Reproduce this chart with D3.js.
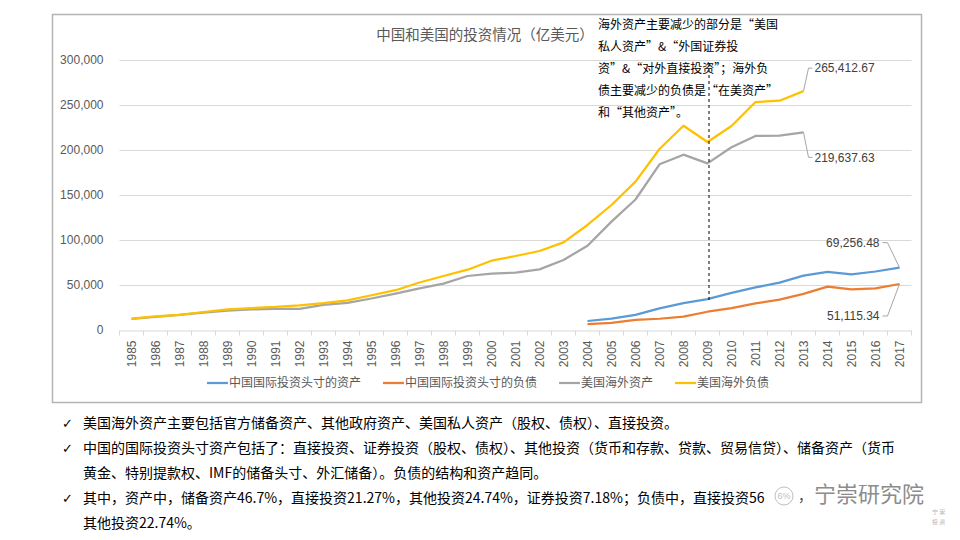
<!DOCTYPE html>
<html>
<head>
<meta charset="utf-8">
<script src="https://cdn.jsdelivr.net/npm/d3@7"></script>
<style>
  body { margin: 0; background: #fff; }
  svg { display: block; }
  text { font-family: "Liberation Sans", "Noto Sans CJK SC", sans-serif; }
  .cjk { font-family: "Noto Sans CJK SC", sans-serif; }
</style>
</head>
<body>
<svg id="chart" width="960" height="540"></svg>
<script>
// Data
const years = d3.range(1985, 2018);
const usYears = d3.range(1985, 2014);
const cnYears = d3.range(2004, 2018);

const usAssets = [12300, 14600, 16700, 19300, 21500, 22800, 23500, 23400, 27800, 30200, 35000, 40500, 46200, 51600,
    60000, 62600, 63700, 67400, 77800, 93700, 120400, 145000, 184100, 194800, 185200, 203000, 215600, 216000, 219637.63];
const usLiab = [12600, 15200, 16900, 20000, 22800, 24400, 25600, 27400, 29800, 33000, 38600, 44200, 52800, 60000,
    67000, 77000, 82200, 87800, 97400, 116700, 138900, 164800, 201100, 227000, 208900, 226700, 253300, 254800, 265412.67];
const cnAssets = [10000, 12600, 16900, 24100, 29800, 34400, 41200, 47300, 52600, 60400, 64600, 61700, 65000, 69256.48];
const cnLiab = [6600, 8000, 11200, 12500, 14900, 20300, 24300, 29600, 33700, 40200, 48200, 45200, 46200, 51115.34];

const yTicks = [0, 50000, 100000, 150000, 200000, 250000, 300000];
const seriesNames = ['中国国际投资头寸的资产', '中国国际投资头寸的负债', '美国海外资产', '美国海外负债'];
const colors = ['#5b9bd5', '#ed7d31', '#a5a5a5', '#ffc000'];

const title = '中国和美国的投资情况（亿美元）';
const noteLines = [
    '海外资产主要减少的部分是“美国',
    '私人资产”&“外国证券投',
    '资”&“对外直接投资”；海外负',
    '债主要减少的负债是“在美资产”',
    '和“其他资产”。'
];
const bullets = [
    { check: true, text: '美国海外资产主要包括官方储备资产、其他政府资产、美国私人资产（股权、债权）、直接投资。' },
    { check: true, text: '中国的国际投资头寸资产包括了：直接投资、证券投资（股权、债权）、其他投资（货币和存款、贷款、贸易信贷）、储备资产（货币' },
    { check: false, text: '黄金、特别提款权、IMF的储备头寸、外汇储备）。负债的结构和资产趋同。' },
    { check: true, text: '其中，资产中，储备资产46.7%，直接投资21.27%，其他投资24.74%，证券投资7.18%；负债中，直接投资56' },
    { check: false, text: '其他投资22.74%。' }
];

const svg = d3.select('#chart');

// frame
svg.append('rect')
    .attr('x', 52.5).attr('y', 14.5)
    .attr('width', 869).attr('height', 388)
    .attr('fill', '#fff')
    .attr('stroke', '#b4b4b4')
    .attr('stroke-width', 1.5);

const x = d3.scaleBand()
    .domain(years)
    .range([119.5, 911.5])
    .padding(0);

const y = d3.scaleLinear()
    .domain([0, 300000])
    .range([330, 60]);

const cx = yr => x(yr) + x.bandwidth() / 2;

// gridlines
svg.append('g')
    .selectAll('line')
    .data(yTicks.filter(d => d > 0))
    .enter().append('line')
    .attr('x1', x.range()[0]).attr('x2', x.range()[1])
    .attr('y1', d => y(d) + 0.5).attr('y2', d => y(d) + 0.5)
    .attr('stroke', '#d9d9d9')
    .attr('stroke-width', 1);

// y axis
const yAxis = svg.append('g')
    .attr('transform', `translate(${x.range()[0]},0)`)
    .call(d3.axisLeft(y).tickValues(yTicks).tickSize(0).tickPadding(16).tickFormat(d3.format(',')));
yAxis.select('.domain').remove();
yAxis.selectAll('text').attr('fill', '#595959').style('font-size', '12px');

// x axis
const xAxis = svg.append('g')
    .attr('transform', `translate(0,${y(0) + 0.5})`)
    .call(d3.axisBottom(x).tickSize(0));
xAxis.select('.domain').attr('stroke', '#d9d9d9');
xAxis.selectAll('text')
    .attr('transform', 'rotate(-90)')
    .attr('x', -10).attr('y', 0).attr('dy', '0.35em')
    .style('text-anchor', 'end')
    .attr('fill', '#595959')
    .style('font-size', '12px');
xAxis.selectAll('.tickmark')
    .data(years.concat([null]))
    .enter().append('line')
    .attr('class', 'tickmark')
    .attr('x1', d => d === null ? x.range()[1] : x(d))
    .attr('x2', d => d === null ? x.range()[1] : x(d))
    .attr('y1', 0).attr('y2', 5)
    .attr('stroke', '#d9d9d9');

// lines
const line = d3.line().x(d => cx(d[0])).y(d => y(d[1]));
const series = [
    d3.zip(cnYears, cnAssets),
    d3.zip(cnYears, cnLiab),
    d3.zip(usYears, usAssets),
    d3.zip(usYears, usLiab)
];
series.forEach((s, i) => {
    svg.append('path')
        .datum(s)
        .attr('fill', 'none')
        .attr('stroke', colors[i])
        .attr('stroke-width', 2.25)
        .attr('stroke-linejoin', 'round')
        .attr('d', line);
});

// data labels with leader lines
const fmt = d3.format(',.2f');
const labels = [
    { s: 3, dx: 5, dy: -23, anchor: 'start' },
    { s: 2, dx: 5, dy: 25, anchor: 'start' },
    { s: 0, dx: -12, dy: -25, anchor: 'end' },
    { s: 1, dx: -12, dy: 32, anchor: 'end' }
];
labels.forEach(l => {
    const last = series[l.s][series[l.s].length - 1];
    const px = cx(last[0]), py = y(last[1]);
    const ex = px + l.dx, ey = py + l.dy;
    const hx = l.anchor === 'start' ? ex + 4 : ex - 5;
    svg.append('polyline')
        .attr('points', `${px},${py} ${ex},${ey} ${hx},${ey}`)
        .attr('fill', 'none')
        .attr('stroke', '#a6a6a6')
        .attr('stroke-width', 1);
    svg.append('text')
        .attr('x', l.anchor === 'start' ? hx + 2 : hx - 3)
        .attr('y', ey)
        .attr('dy', '0.35em')
        .attr('text-anchor', l.anchor)
        .attr('fill', '#404040')
        .style('font-size', '12px')
        .text(fmt(last[1]));
});

// title
svg.append('text')
    .attr('class', 'cjk')
    .attr('x', 485).attr('y', 35)
    .attr('dy', '0.35em')
    .attr('text-anchor', 'middle')
    .attr('fill', '#595959')
    .style('font-size', '14.5px')
    .text(title);

// annotation + dashed marker at 2009
svg.append('line')
    .attr('x1', cx(2009) + 1.5).attr('x2', cx(2009) + 1.5)
    .attr('y1', 63).attr('y2', 303)
    .attr('stroke', '#000')
    .attr('stroke-width', 1)
    .attr('stroke-dasharray', '3,3');
svg.append('g').selectAll('text')
    .data(noteLines)
    .enter().append('text')
    .attr('class', 'cjk')
    .attr('x', 598)
    .attr('y', (d, i) => 25 + i * 22)
    .attr('dy', '0.35em')
    .attr('fill', '#000')
    .style('font-size', '12px')
    .text(d => d);

// legend
const legend = svg.append('g').attr('transform', 'translate(207,383)');
let lx = 0;
seriesNames.forEach((name, i) => {
    legend.append('line')
        .attr('x1', lx).attr('x2', lx + 21)
        .attr('stroke', colors[i])
        .attr('stroke-width', 2.25);
    const t = legend.append('text')
        .attr('class', 'cjk')
        .attr('x', lx + 22)
        .attr('dy', '0.35em')
        .attr('fill', '#595959')
        .style('font-size', '12px')
        .text(name);
    lx += 22 + t.node().getComputedTextLength() + 22;
});

// bullet notes
const notes = svg.append('g');
bullets.forEach((b, i) => {
    const ty = 423 + i * 25;
    if (b.check) {
        notes.append('text')
            .attr('x', 62).attr('y', ty).attr('dy', '0.35em')
            .attr('fill', '#000')
            .style('font-size', '13px')
            .style('font-family', 'DejaVu Sans')
            .text('✓');
    }
    notes.append('text')
        .attr('class', 'cjk')
        .attr('x', 83).attr('y', ty).attr('dy', '0.35em')
        .attr('fill', '#000')
        .style('font-size', '14px')
        .text(b.text);
});

// watermark
const wm = svg.append('g').attr('opacity', 0.75);
wm.append('circle').attr('cx', 784).attr('cy', 496).attr('r', 9)
    .attr('fill', 'none').attr('stroke', '#aaa');
wm.append('text').attr('x', 784).attr('y', 496).attr('dy', '0.35em')
    .attr('text-anchor', 'middle').attr('fill', '#aaa').style('font-size', '9px').text('6%');
wm.append('text').attr('class', 'cjk').attr('x', 798).attr('y', 496).attr('dy', '0.35em')
    .attr('fill', '#000').style('font-size', '14px').text('，');
wm.append('text').attr('class', 'cjk').attr('x', 814).attr('y', 494).attr('dy', '0.35em')
    .attr('fill', '#666').style('font-size', '22px').text('宁崇研究院');
wm.append('text').attr('class', 'cjk').attr('x', 932).attr('y', 514)
    .attr('fill', '#999').style('font-size', '6px').text('宁 崇');
wm.append('text').attr('class', 'cjk').attr('x', 932).attr('y', 524)
    .attr('fill', '#999').style('font-size', '6px').text('投 资');
</script>
</body>
</html>
